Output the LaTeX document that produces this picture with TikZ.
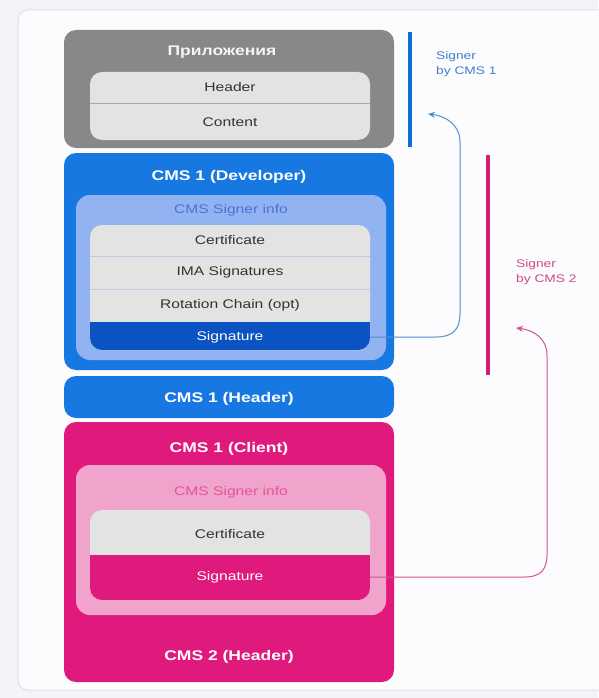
\documentclass[tikz,border=0pt]{standalone}
\usepackage{fontspec}
\setmainfont{Liberation Sans}[FakeStretch=1.25]
\usetikzlibrary{arrows.meta}
\definecolor{bggray}{HTML}{F4F3FA}
\definecolor{cardfill}{HTML}{FCFCFF}
\definecolor{cardline}{HTML}{E2DEF0}
\definecolor{appgray}{HTML}{888888}
\definecolor{rowgray}{HTML}{E3E3E3}
\definecolor{sepgray}{HTML}{A8A8A8}
\definecolor{sepblue}{HTML}{BFCBE6}
\definecolor{cmsblue}{HTML}{1778E2}
\definecolor{lightblue}{HTML}{92B3F2}
\definecolor{darkblue}{HTML}{0B52C2}
\definecolor{infoblue}{HTML}{4A72D4}
\definecolor{cmspink}{HTML}{E01A7C}
\definecolor{lightpink}{HTML}{F0A3CB}
\definecolor{infopink}{HTML}{E4569A}
\definecolor{textgray}{HTML}{333333}
\definecolor{barblue}{HTML}{0D6FD6}
\definecolor{barpink}{HTML}{D21E72}
\definecolor{signblue}{HTML}{3D80CC}
\definecolor{signpink}{HTML}{D04A88}
\definecolor{arrblue}{HTML}{4E92CC}
\definecolor{arrpink}{HTML}{D0558E}
\tikzset{
  box/.style={rounded corners=12pt, inner sep=0pt, minimum width=330pt},
  innerbox/.style={rounded corners=14pt, inner sep=0pt, minimum width=310pt},
  rowbox/.style={rounded corners=12pt, inner sep=0pt, minimum width=280pt, fill=rowgray},
  title/.style={font=\bfseries\fontsize{14}{16}\selectfont, text=white, inner sep=0pt},
  rowtext/.style={font=\fontsize{12.5}{14}\selectfont, text=textgray, inner sep=0pt},
  sigrow/.style={font=\fontsize{12.5}{14}\selectfont, text=white, inner sep=0pt, minimum width=280pt, minimum height=28pt},
  signer/.style={font=\fontsize{11}{15}\selectfont, align=left, anchor=north west, inner sep=0pt},
  conn/.style={line width=1pt, -{Stealth[length=7pt,width=6pt]}},
}
\begin{document}
\begin{tikzpicture}[x=1pt,y=-1pt]
\useasboundingbox (0,0) rectangle (598,698);
\fill[bggray] (0,0) rectangle (598,698);
\draw[cardline, fill=cardfill, line width=1pt, rounded corners=10pt] (18,10) rectangle (640,690);

% Application box
\node[box, fill=appgray, minimum height=118pt] (app) at (229,89) {};
\node[title, text=white!92!gray] (apptitle) at (222,52) {Приложения};
\node[rowbox, minimum height=68pt] (appin) at (230,106) {};
\draw[sepgray, line width=1pt] (90,104) -- (370,104);
\node[rowtext] (hdr) at (230,87) {Header};
\node[rowtext] (cnt) at (230,122) {Content};

% CMS 1 Developer
\node[box, fill=cmsblue, minimum height=217pt] (dev) at (229,261.5) {};
\node[title] (devtitle) at (229,177) {CMS 1 (Developer)};
\node[innerbox, fill=lightblue, minimum height=165pt] (devinfo) at (231,277.5) {};
\node[rowtext, text=infoblue] (devinfotxt) at (231,210) {CMS Signer info};
\node[rowbox, minimum height=125pt] (devrows) at (230,287.5) {};
\begin{scope}
\clip[rounded corners=12pt] (90,225) rectangle (370,350);
\fill[darkblue] (90,322) rectangle (370,350);
\end{scope}
\draw[sepblue, line width=1pt] (90,256) -- (370,256);
\draw[sepblue, line width=1pt] (90,289) -- (370,289);
\node[rowtext] (cert1) at (230,240) {Certificate};
\node[rowtext] (ima) at (230,272.5) {IMA Signatures};
\node[rowtext] (rot) at (230,305.5) {Rotation Chain (opt)};
\node[sigrow] (sig1) at (230,337) {Signature};

% CMS 1 Header
\node[box, fill=cmsblue, minimum height=42pt] (hdr1) at (229,397) {};
\node[title] (hdr1txt) at (229,399) {CMS 1 (Header)};

% CMS 1 Client
\node[box, fill=cmspink, minimum height=260pt] (cli) at (229,552) {};
\node[title] (clititle) at (229,449) {CMS 1 (Client)};
\node[innerbox, fill=lightpink, minimum height=150pt] (cliinfo) at (231,540) {};
\node[rowtext, text=infopink] (cliinfotxt) at (231,492) {CMS Signer info};
\node[rowbox, minimum height=90pt] (clirows) at (230,555) {};
\begin{scope}
\clip[rounded corners=12pt] (90,510) rectangle (370,600);
\fill[cmspink] (90,555) rectangle (370,600);
\end{scope}
\node[rowtext] (cert2) at (230,534) {Certificate};
\node[sigrow, minimum height=45pt] (sig2) at (230,577) {Signature};
\node[title] (hdr2txt) at (229,657) {CMS 2 (Header)};

% Signer bars and labels
\draw[barblue, line width=3.5pt] (410,32) -- (410,147);
\draw[barpink, line width=3.5pt] (488,155) -- (488,375);
\node[signer, text=signblue] (sgn1) at (436,51) {Signer\\by CMS 1};
\node[signer, text=signpink] (sgn2) at (516,259) {Signer\\by CMS 2};

% Arrows
\coordinate (tip1) at (428,114);
\coordinate (tip2) at (516,328);
\draw[conn, arrblue] (sig1.east) -- (436,337) .. controls (452,337) and (460,330) .. (460,314) -- (460,142) .. controls (460,125) and (446,116) .. (tip1);
\draw[conn, arrpink] (sig2.east) -- (525,577) .. controls (540,577) and (547,570) .. (547,555) -- (547,355) .. controls (547,338) and (533,330) .. (tip2);
\end{tikzpicture}
\end{document}
